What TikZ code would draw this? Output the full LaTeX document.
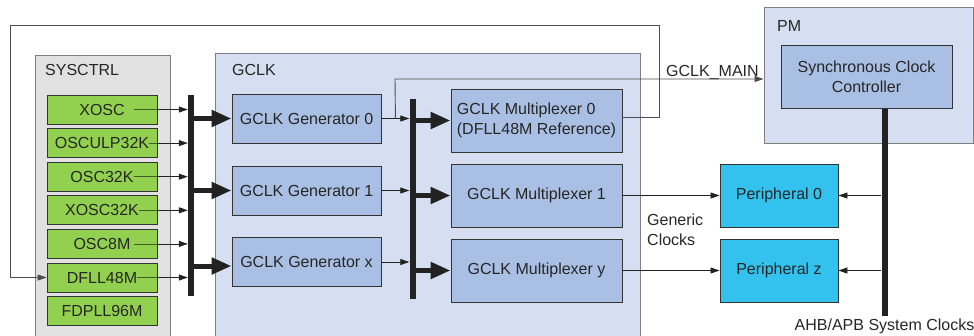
\documentclass[tikz,border=0pt]{standalone}
\usepackage{fontspec}
\setmainfont{Liberation Sans}
\usetikzlibrary{arrows.meta,calc}

\definecolor{sysgray}{HTML}{E1E1E1}
\definecolor{oscgreen}{HTML}{92D050}
\definecolor{regionblue}{HTML}{D5DFF1}
\definecolor{unitblue}{HTML}{A9BFE3}
\definecolor{periphcyan}{HTML}{33C2EE}
\definecolor{framegray}{HTML}{7F7F7F}
\definecolor{boxedge}{HTML}{333333}
\definecolor{bardark}{HTML}{222222}
\definecolor{textdark}{HTML}{262626}
\definecolor{wiregray}{HTML}{4D4D4D}

\tikzset{
  region/.style={draw=framegray, fill=regionblue, line width=1pt, inner sep=0pt},
  unit/.style={draw=boxedge, fill=unitblue, line width=0.9pt, inner sep=0pt,
    minimum width=#1, minimum height=63pt},
  oscbox/.style={draw=boxedge, fill=oscgreen, line width=0.9pt, inner sep=0pt,
    minimum width=110pt, minimum height=29pt},
  periph/.style={draw=boxedge, fill=periphcyan, line width=0.9pt, inner sep=0pt,
    minimum width=118pt, minimum height=63pt},
  bus/.style={fill=bardark, draw=none, inner sep=0pt, minimum width=6pt},
  tag/.style={inner sep=0pt},
  sig/.style={draw=bardark, line width=0.8pt, -{Triangle[length=9pt,width=6pt]}},
  wire/.style={draw=wiregray, line width=0.9pt},
  fat/.style={draw=bardark, line width=5pt, -{Triangle[length=20pt,width=16pt]}},
}

\begin{document}
\begin{tikzpicture}[x=1pt,y=-1pt,font=\fontsize{16}{20}\selectfont,text=textdark]
\useasboundingbox (0,0) rectangle (974,335);
%% regions
\node[region, fill=sysgray, minimum width=135pt, minimum height=282pt] (sysctrl) at (102.5,196) {};
\node[tag, anchor=base west] at (45,75) {SYSCTRL};
\node[region, minimum width=425pt, minimum height=285pt] (gclk) at (427.5,195.5) {};
\node[tag, anchor=base west] at (232,75) {GCLK};
\node[region, minimum width=209pt, minimum height=136pt] (pm) at (868.5,75) {};
\node[tag, anchor=base west] at (777,31) {PM};
%% buses
\node[bus, minimum height=201pt] (bus1) at (191,195.5) {};
\node[bus, minimum height=200pt] (bus2) at (412.5,199) {};
\node[bus, minimum height=208pt] (sysbus) at (884.5,212) {};
%% oscillators (line starts just after the name)
\foreach \name [count=\i from 0] in {XOSC,OSCULP32K,OSC32K,XOSC32K,OSC8M,DFLL48M,FDPLL96M} {
  \node[oscbox] (osc\i) at (102,109.5+33.6*\i) {};
  \node[tag] (oscname\i) at (osc\i) {\name};
  \ifnum\i<6
    \draw[draw=oscgreen!45!black, line width=0.8pt]
      let \p1=(oscname\i.east) in ({max(\x1,134pt)},\y1) -- (osc\i.east);
    \draw[sig] (osc\i.east) -- (bus1.west |- osc\i.east);
  \fi
}
%% generators and multiplexers
\node[unit=149pt, minimum height=49pt] (gen0) at (306.5,118.5) {GCLK Generator 0};
\node[unit=149pt, minimum height=49pt] (gen1) at (306.5,190.5) {GCLK Generator 1};
\node[unit=149pt, minimum height=49pt] (genx) at (306.5,262) {GCLK Generator x};
\node[unit=171pt, align=left] (mux0) at (536.5,120.5) {GCLK Multiplexer 0\\(DFLL48M Reference)};
\node[unit=171pt] (mux1) at (536.5,195.5) {GCLK Multiplexer 1};
\node[unit=171pt] (muxy) at (536.5,270.5) {GCLK Multiplexer y};
\node[unit=171pt, align=center] (scc) at (866.5,76.5) {Synchronous Clock\\Controller};
\node[periph] (per0) at (779,195.5) {Peripheral 0};
\node[periph] (perz) at (779,270.5) {Peripheral z};
%% labels
\node[tag, anchor=base west] at (666,76) {GCLK\_MAIN};
\node[tag, anchor=north west, align=left] at (647,214) {Generic\\Clocks};
\node[tag, anchor=north, yshift=-2pt] at (sysbus.south) {AHB/APB System Clocks};
%% connections
\draw[fat] (bus1.east |- gen0.west) -- (gen0.west);
\draw[fat] (bus1.east |- gen1.west) -- (gen1.west);
\draw[fat] ([yshift=-4pt]bus1.east |- genx.west) -- ([yshift=-4pt]genx.west);
\foreach \g in {gen0,gen1,genx}
  \draw[sig] (\g.east) -- (bus2.west |- \g.east);
\foreach \m in {mux0,mux1,muxy}
  \draw[fat] (bus2.east |- \m.west) -- (\m.west);
\draw[sig] (mux1.east) -- (per0.west);
\draw[sig] (muxy.east) -- (perz.west);
\draw[sig] (sysbus.west |- per0.east) -- (per0.east);
\draw[sig] (sysbus.west |- perz.east) -- (perz.east);
%% GCLK_MAIN and DFLL48M reference loop
\coordinate (tap) at ([xshift=14pt]gen0.east);
\coordinate (tapTop) at (395,79);
\draw[wire, -{Triangle[length=9pt,width=6pt]}] (tap) -- (tapTop) -- (tapTop -| pm.west);
\coordinate (loopNE) at (659,25);
\coordinate (loopNW) at (10,25);
\draw[wire, -{Triangle[length=9pt,width=6pt]}] ([yshift=3pt]mux0.east) -| (loopNE) -- (loopNW) |- (osc5.west);
\end{tikzpicture}
\end{document}
